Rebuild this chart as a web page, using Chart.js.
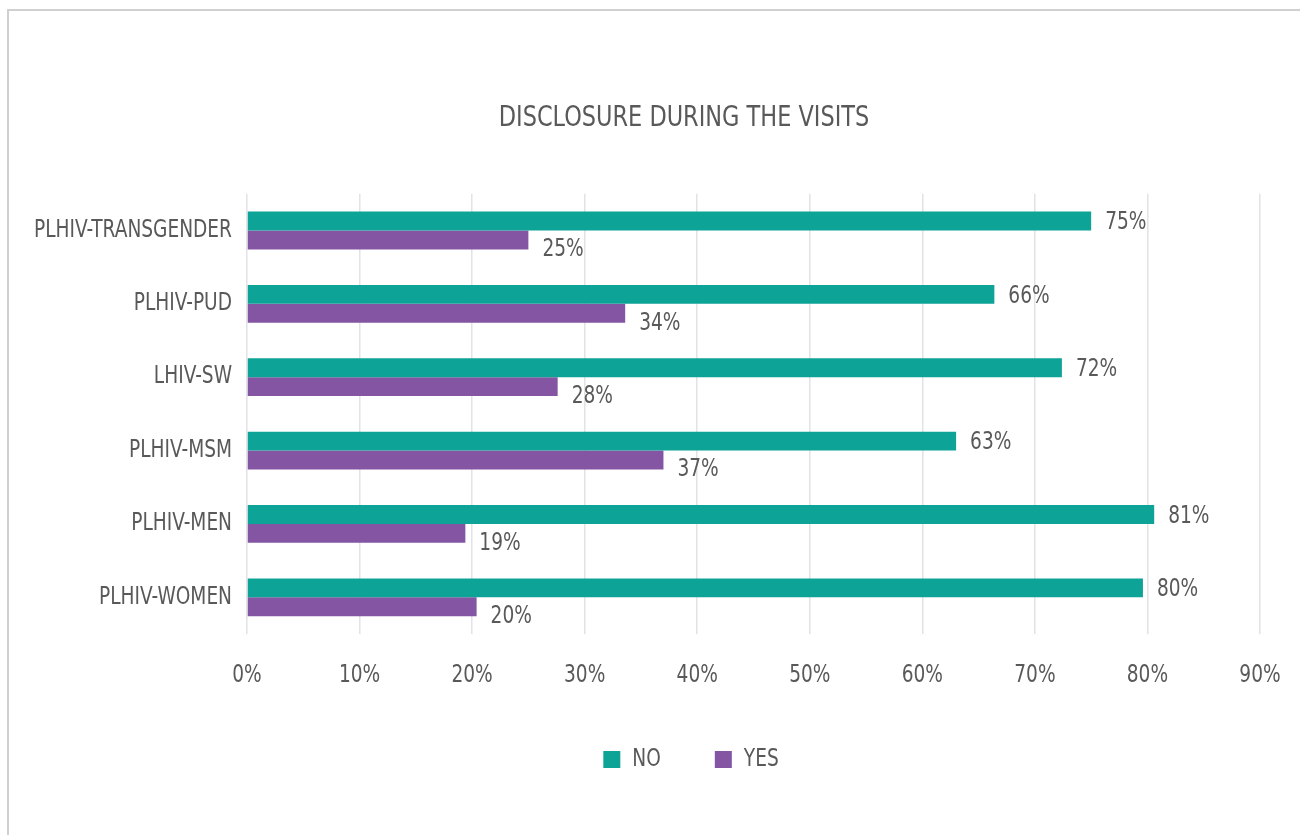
<!DOCTYPE html>
<html>
<head>
<meta charset="utf-8">
<script src="https://cdn.jsdelivr.net/npm/chart.js@4"></script>
<style>
  html, body { margin: 0; padding: 0; background: #ffffff; overflow: hidden; }
  #wrap { position: relative; width: 1300px; height: 835px; }
  #frame { position: absolute; left: 7px; top: 9px; width: 1400px; height: 900px; border: 2px solid #d0d0d0; box-sizing: border-box; }
  canvas { position: absolute; left: 0; top: 0; }
</style>
</head>
<body>
<div id="wrap">
  <div id="frame"></div>
  <canvas id="c" width="1300" height="835"></canvas>
</div>
<script>
const categories = ["PLHIV-TRANSGENDER", "PLHIV-PUD", "LHIV-SW", "PLHIV-MSM", "PLHIV-MEN", "PLHIV-WOMEN"];
const noValues = [75.0, 66.4, 72.4, 63.0, 80.6, 79.6];
const yesValues = [25.0, 33.6, 27.6, 37.0, 19.4, 20.4];
const xTicks = [0, 10, 20, 30, 40, 50, 60, 70, 80, 90];
const seriesNames = ["NO", "YES"];

const FONT = "'DejaVu Sans Condensed', 'DejaVu Sans', sans-serif";
const TEXT = '#595959';
const SX = 0.86; // horizontal text condensing to mimic the narrow reference face

const canvas = document.getElementById('c');
const ctx2d = canvas.getContext('2d');
(function condenseText(ctx) {
  const origFill = ctx.fillText.bind(ctx);
  const origMeasure = ctx.measureText.bind(ctx);
  ctx.fillText = function (text, x, y, maxWidth) {
    ctx.save();
    ctx.translate(x, y);
    ctx.scale(SX, 1);
    if (maxWidth !== undefined && maxWidth !== null) origFill(text, 0, 0, maxWidth / SX);
    else origFill(text, 0, 0);
    ctx.restore();
  };
  ctx.measureText = function (text) {
    const m = origMeasure(text);
    return {
      width: m.width * SX,
      actualBoundingBoxAscent: m.actualBoundingBoxAscent,
      actualBoundingBoxDescent: m.actualBoundingBoxDescent,
      actualBoundingBoxLeft: m.actualBoundingBoxLeft * SX,
      actualBoundingBoxRight: m.actualBoundingBoxRight * SX,
      fontBoundingBoxAscent: m.fontBoundingBoxAscent,
      fontBoundingBoxDescent: m.fontBoundingBoxDescent
    };
  };
})(ctx2d);

const labelPlugin = {
  id: 'barLabels',
  afterDatasetsDraw(chart) {
    const ctx = chart.ctx;
    const offsets = [2, 10];
    ctx.save();
    ctx.font = "24px " + FONT;
    ctx.fillStyle = TEXT;
    ctx.textAlign = 'left';
    ctx.textBaseline = 'middle';
    chart.data.datasets.forEach((ds, di) => {
      const meta = chart.getDatasetMeta(di);
      meta.data.forEach((el, i) => {
        const txt = Math.round(ds.data[i]) + '%';
        ctx.fillText(txt, el.x + 14, el.y + offsets[di]);
      });
    });
    ctx.restore();
  }
};

// shift the title and legend centre to the right, as in the reference
const shiftPlugin = {
  id: 'shiftBlocks',
  afterLayout(chart) {
    if (chart.titleBlock) { chart.titleBlock.left += 54; chart.titleBlock.right += 54; }
    if (chart.legend) {
      chart.legend.left += 61; chart.legend.right += 61;
      chart.legend.top += 2; chart.legend.bottom += 2;
    }
  }
};

new Chart(ctx2d, {
  type: 'bar',
  data: {
    labels: categories,
    datasets: [
      { label: seriesNames[0], data: noValues, backgroundColor: '#0ea397', borderWidth: 0 },
      { label: seriesNames[1], data: yesValues, backgroundColor: '#8455a3', borderWidth: 0 }
    ]
  },
  options: {
    indexAxis: 'y',
    responsive: false,
    animation: false,
    devicePixelRatio: 1,
    categoryPercentage: 0.515,
    barPercentage: 1.0,
    layout: { padding: { left: 0, right: 40, top: 0, bottom: 55.5 } },
    plugins: {
      title: {
        display: true,
        text: 'DISCLOSURE DURING THE VISITS',
        color: TEXT,
        font: { family: FONT, size: 29, weight: 'normal' },
        padding: { top: 101, bottom: 58 }
      },
      legend: {
        position: 'bottom',
        labels: {
          color: TEXT,
          font: { family: FONT, size: 24 },
          boxWidth: 17,
          boxHeight: 17,
          padding: 54
        }
      },
      tooltip: { enabled: false }
    },
    scales: {
      x: {
        min: 0,
        max: 90,
        afterBuildTicks(scale) { scale.ticks = xTicks.map(v => ({ value: v })); },
        afterFit(scale) { scale.height = 57.5; },
        ticks: {
          color: TEXT,
          font: { family: FONT, size: 24 },
          padding: 4,
          callback: v => v + '%'
        },
        grid: { color: '#e2e2e8', lineWidth: 1.5, drawTicks: true, tickLength: 23, tickColor: 'rgba(0,0,0,0)' },
        border: { display: false }
      },
      y: {
        afterFit(scale) { scale.width = 247; },
        ticks: {
          color: TEXT,
          font: { family: FONT, size: 24 },
          padding: 15
        },
        grid: { display: false, drawTicks: false },
        border: { display: false }
      }
    }
  },
  plugins: [labelPlugin, shiftPlugin]
});
</script>
</body>
</html>
